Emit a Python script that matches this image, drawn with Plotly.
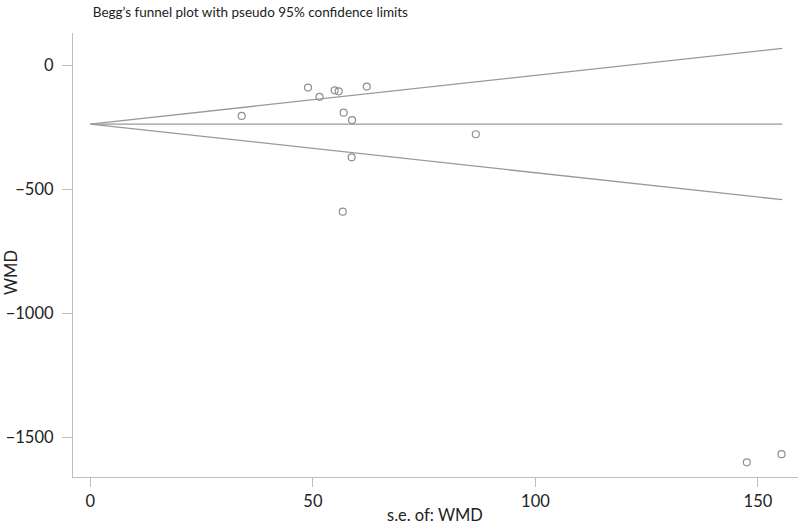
import plotly.graph_objects as go

# Study data: standard error of WMD and WMD
se = [48.9, 51.5, 54.9, 55.8, 62.1, 34.0, 56.9, 58.8, 86.6, 58.7, 56.7, 147.5, 155.3]
wmd = [-90, -127, -101, -105, -86, -204, -191, -221, -278, -371, -590, -1600, -1567]

# Pooled estimate and funnel limits
theta = -237
se_max = 155.5
z = 1.96
funnel_se = [0, se_max]
upper = [theta + z * s for s in funnel_se]
lower = [theta - z * s for s in funnel_se]
center = [theta, theta]

x_ticks = [0, 50, 100, 150]
y_ticks = [0, -500, -1000, -1500]

line_col = "#9a9a9a"
axis_col = "#bdbdbd"
font_fam = "Lato, Open Sans, sans-serif"

fig = go.Figure()
for yv in (upper, center, lower):
    fig.add_trace(go.Scatter(x=funnel_se, y=yv, mode="lines",
                             line=dict(color=line_col, width=1.3),
                             hoverinfo="skip", showlegend=False))
fig.add_trace(go.Scatter(x=se, y=wmd, mode="markers",
                         marker=dict(symbol="circle-open", size=7,
                                     color="#8f8f8f", line=dict(width=1.2)),
                         showlegend=False))

fig.update_layout(
    width=800, height=524,
    margin=dict(l=73, r=2, t=33, b=47),
    paper_bgcolor="white", plot_bgcolor="white",
    font=dict(family=font_fam, size=16.5, color="#222"),
    title=dict(text="Begg’s funnel plot with pseudo 95% confidence limits",
               x=0.116, xanchor="left", xref="container",
               y=0.985, yanchor="top", yref="container",
               font=dict(size=13.5, color="#222")),
    xaxis=dict(range=[-3.9, 159], tickvals=x_ticks, showgrid=False, zeroline=False,
               showline=True, linecolor=axis_col, linewidth=1.3,
               ticks="outside", ticklen=9, tickcolor=axis_col, tickwidth=1.2),
    yaxis=dict(range=[-1659, 130], tickvals=y_ticks, showgrid=False, zeroline=False,
               showline=True, linecolor=axis_col, linewidth=1.3,
               ticks="outside", ticklen=10, tickcolor=axis_col, tickwidth=1.2,
               ticklabelstandoff=5),
    annotations=[
        dict(text="s.e. of: WMD", xref="paper", yref="paper", x=0.499, y=-0.0863,
             xanchor="center", yanchor="middle", showarrow=False,
             font=dict(size=16.5)),
        dict(text="WMD", xref="paper", yref="paper", x=-0.0846, y=0.461,
             xanchor="center", yanchor="middle", showarrow=False, textangle=-90,
             font=dict(size=16.5)),
    ],
)

fig.write_html("out.html", config={"displayModeBar": False},
               post_script="document.body.style.margin='0';")
